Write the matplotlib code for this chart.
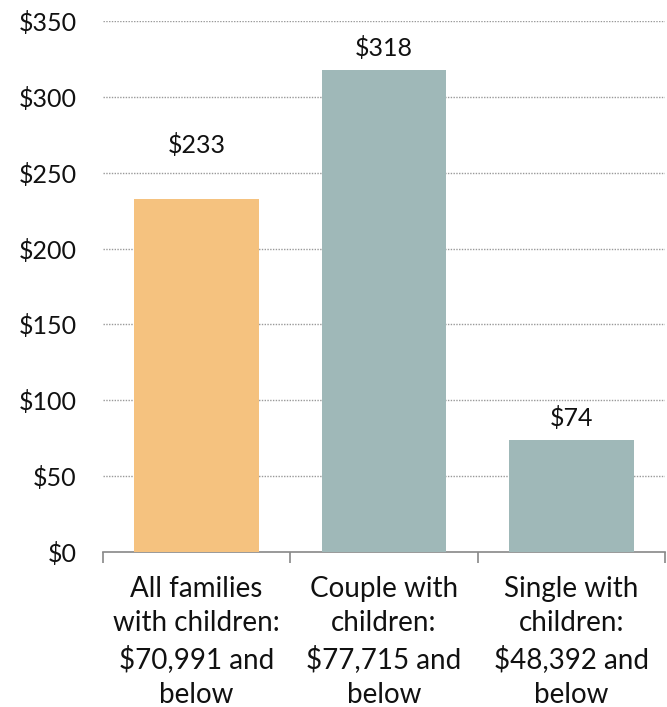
import matplotlib.pyplot as plt
import numpy as np

categories = ['All families\nwith children:\n$70,991 and\nbelow',
              'Couple with\nchildren:\n$77,715 and\nbelow',
              'Single with\nchildren:\n$48,392 and\nbelow']
values = [233, 318, 74]
yticks = [0, 50, 100, 150, 200, 250, 300, 350]
colors = ['#F5C27F', '#9FB8B8', '#9FB8B8']
label_pad = [30, 7, 7]  # points above bar top

plt.rcParams['font.family'] = ['Lato', 'DejaVu Sans']

fig = plt.figure(figsize=(6.67, 7.07), dpi=100)
ax = fig.add_axes([103/667, 1-552/707, 562/667, 531/707])

x = np.arange(len(values))
ax.bar(x, values, width=0.665, color=colors, zorder=3)

for xi, v, p in zip(x, values, label_pad):
    ax.annotate(f'${v}', (xi, v), xytext=(0, p), textcoords='offset points',
                ha='center', va='bottom', fontsize=18, color='#111111')

ax.set_xlim(-0.5, 2.5)
ax.set_ylim(0, 350)
ax.set_yticks(yticks)
ax.set_yticklabels([f'${t}' for t in yticks], fontsize=18, color='#111111')
for t in yticks[1:]:
    ax.axhline(t, color='#999999', lw=1, ls=(0, (1, 1)), zorder=1)

ax.set_xticks([-0.5, 0.5, 1.5, 2.5])
ax.set_xticklabels([])
ax.set_xticks(x, minor=True)
ax.set_xticklabels(categories, minor=True, fontsize=20, color='#111111',
                   linespacing=1.4)
ax.tick_params(axis='x', which='major', length=8, color='#888888', width=1.2)
ax.tick_params(axis='x', which='minor', length=0, pad=17)
ax.tick_params(axis='y', length=0, pad=19)

for s in ['top', 'right', 'left']:
    ax.spines[s].set_visible(False)
ax.spines['bottom'].set_color('#888888')
ax.spines['bottom'].set_linewidth(1.2)

fig.savefig('out.png', dpi=100)
